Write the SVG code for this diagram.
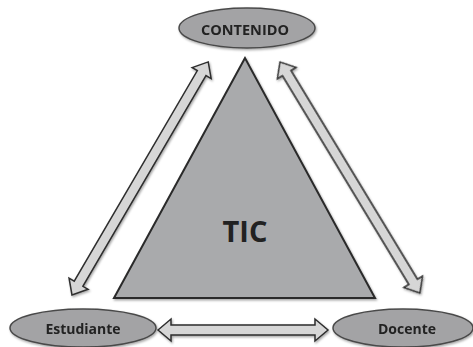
<svg xmlns="http://www.w3.org/2000/svg" width="473" height="347" viewBox="0 0 473 347">
<defs>
<style>
.node{fill:#a3a3a5;stroke:#4a4a4a;stroke-width:1.5}
.lbl{font-family:"Open Sans","Liberation Sans",sans-serif;font-weight:bold;fill:#222;text-anchor:middle}
.arr{fill:#d6d6d6;stroke:#2e2e2e;stroke-width:1.5;stroke-linejoin:miter}
.tri{fill:#a9aaac;stroke:#2a2a2a;stroke-width:2;stroke-linejoin:miter}
</style>
<filter id="sh" x="-10%" y="-10%" width="120%" height="130%">
<feDropShadow dx="1" dy="1.5" stdDeviation="1.2" flood-color="#000" flood-opacity="0.35"/>
</filter>
</defs>
<rect width="473" height="347" fill="#fff"/>
<g id="tic">
<polygon class="tri" filter="url(#sh)" points="245,58 114,298 375,298"/>
<text class="lbl" x="245" y="242" font-size="29">TIC</text>
</g>
<g id="connectors" filter="url(#sh)">
<path class="arr" transform="translate(72,295) rotate(-59.7)" d="M0,0 L13,-11 L13,-5 L257,-5 L257,-11 L270,0 L257,11 L257,5 L13,5 L13,11 Z"/>
<path class="arr" transform="translate(280,62) rotate(58.8)" d="M0,0 L13,-11 L13,-5 L257,-5 L257,-11 L270,0 L257,11 L257,5 L13,5 L13,11 Z"/>
<path class="arr" transform="translate(158,330)" d="M0,0 L13,-11 L13,-5 L157,-5 L157,-11 L170,0 L157,11 L157,5 L13,5 L13,11 Z"/>
</g>
<g id="contenido">
<ellipse class="node" filter="url(#sh)" cx="247" cy="28" rx="68" ry="20"/>
<text class="lbl" x="245" y="35" font-size="14.5">CONTENIDO</text>
</g>
<g id="estudiante">
<ellipse class="node" filter="url(#sh)" cx="83" cy="328" rx="73" ry="19"/>
<text class="lbl" x="83" y="334" font-size="14">Estudiante</text>
</g>
<g id="docente">
<ellipse class="node" filter="url(#sh)" cx="403" cy="328" rx="70" ry="19"/>
<text class="lbl" x="407" y="334" font-size="14">Docente</text>
</g>
</svg>
